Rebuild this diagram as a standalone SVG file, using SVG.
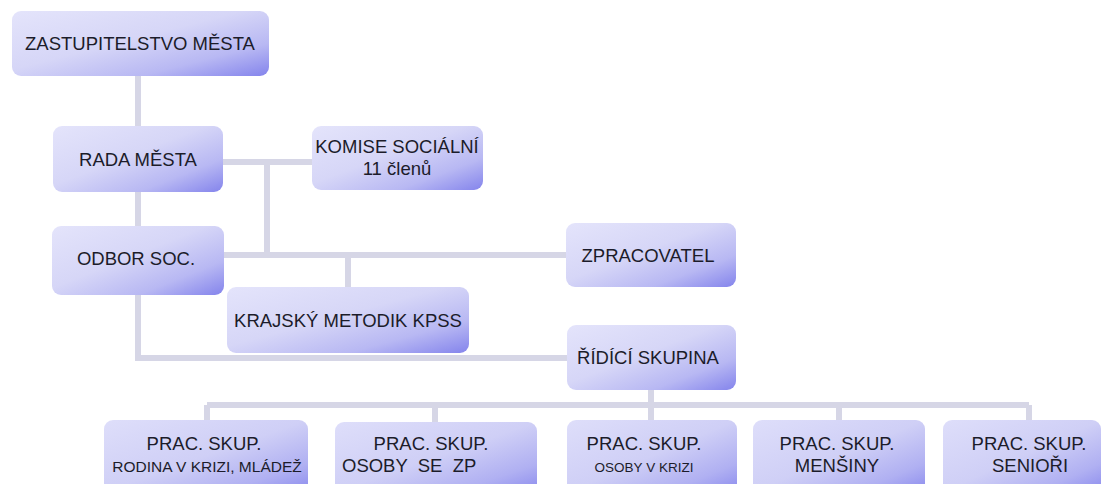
<svg xmlns="http://www.w3.org/2000/svg" width="1104" height="484" viewBox="0 0 1104 484">
<defs>
<linearGradient id="g" x1="0" y1="0" x2="1" y2="1">
<stop offset="0" stop-color="#e4e4fb"/>
<stop offset="0.45" stop-color="#d6d6f7"/>
<stop offset="0.75" stop-color="#b8b8f3"/>
<stop offset="1" stop-color="#8484ec"/>
</linearGradient>
<linearGradient id="g2" x1="0" y1="0" x2="1" y2="1">
<stop offset="0" stop-color="#dedefa"/>
<stop offset="0.5" stop-color="#cfcff6"/>
<stop offset="0.8" stop-color="#b0b0f2"/>
<stop offset="1" stop-color="#8c8cee"/>
</linearGradient>
<style>
.box{fill:url(#g);}
.box2{fill:url(#g2);}
.t{font-family:"Liberation Sans",Arial,sans-serif;font-size:18.5px;fill:#1c1c2a;text-anchor:middle;}
.s{font-size:15.5px;}
.xs{font-size:13.5px;}
.c{fill:none;stroke:#d6d6e6;stroke-width:6;}
</style>
</defs>
<rect width="1104" height="484" fill="#ffffff"/>
<g id="connectors" class="c">
<path d="M138 76V126"/>
<path d="M138 192V226"/>
<path d="M223 162H312"/>
<path d="M267 162V255"/>
<path d="M224 255H566"/>
<path d="M348 255V287"/>
<path d="M138 295V358H567"/>
<path d="M651 390V405"/>
<path d="M207 405H1029"/>
<path d="M207 405V420M435 405V422M651 405V420M839 405V420M1029 405V420"/>
</g>
<g id="zastupitelstvo">
<rect class="box" x="12" y="11" width="257" height="65" rx="9"/>
<text class="t" x="140" y="50">ZASTUPITELSTVO MĚSTA</text>
</g>
<g id="rada">
<rect class="box" x="53" y="126" width="170" height="66" rx="9"/>
<text class="t" x="138" y="166">RADA MĚSTA</text>
</g>
<g id="komise">
<rect class="box" x="312" y="126" width="171" height="64" rx="9"/>
<text class="t" x="397" y="153">KOMISE SOCIÁLNÍ</text>
<text class="t" x="397" y="175">11 členů</text>
</g>
<g id="odbor">
<rect class="box" x="52" y="226" width="172" height="69" rx="9"/>
<text class="t" x="136" y="265">ODBOR SOC.</text>
</g>
<g id="zpracovatel">
<rect class="box" x="566" y="223" width="170" height="64" rx="9"/>
<text class="t" x="648" y="262">ZPRACOVATEL</text>
</g>
<g id="krajsky">
<rect class="box" x="227" y="287" width="242" height="66" rx="9"/>
<text class="t" x="348" y="327">KRAJSKÝ METODIK KPSS</text>
</g>
<g id="ridici">
<rect class="box" x="567" y="325" width="169" height="65" rx="9"/>
<text class="t" x="648" y="364">ŘÍDÍCÍ SKUPINA</text>
</g>
<g id="prac1">
<rect class="box2" x="104" y="420" width="204" height="72" rx="9"/>
<text class="t" x="204" y="450">PRAC. SKUP.</text>
<text class="t s" x="207" y="472">RODINA V KRIZI, MLÁDEŽ</text>
</g>
<g id="prac2">
<rect class="box2" x="335" y="422" width="202" height="70" rx="9"/>
<text class="t" x="431" y="450">PRAC. SKUP.</text>
<text class="t" x="342" y="472" style="text-anchor:start;white-space:pre">OSOBY  SE  ZP</text>
</g>
<g id="prac3">
<rect class="box2" x="567" y="420" width="170" height="72" rx="9"/>
<text class="t" x="644" y="450">PRAC. SKUP.</text>
<text class="t xs" x="644" y="472">OSOBY V KRIZI</text>
</g>
<g id="prac4">
<rect class="box2" x="753" y="420" width="172" height="72" rx="9"/>
<text class="t" x="837" y="450">PRAC. SKUP.</text>
<text class="t" x="837" y="472">MENŠINY</text>
</g>
<g id="prac5">
<rect class="box2" x="943" y="420" width="158" height="72" rx="9"/>
<text class="t" x="1029" y="450">PRAC. SKUP.</text>
<text class="t" x="1030" y="472">SENIOŘI</text>
</g>
</svg>
